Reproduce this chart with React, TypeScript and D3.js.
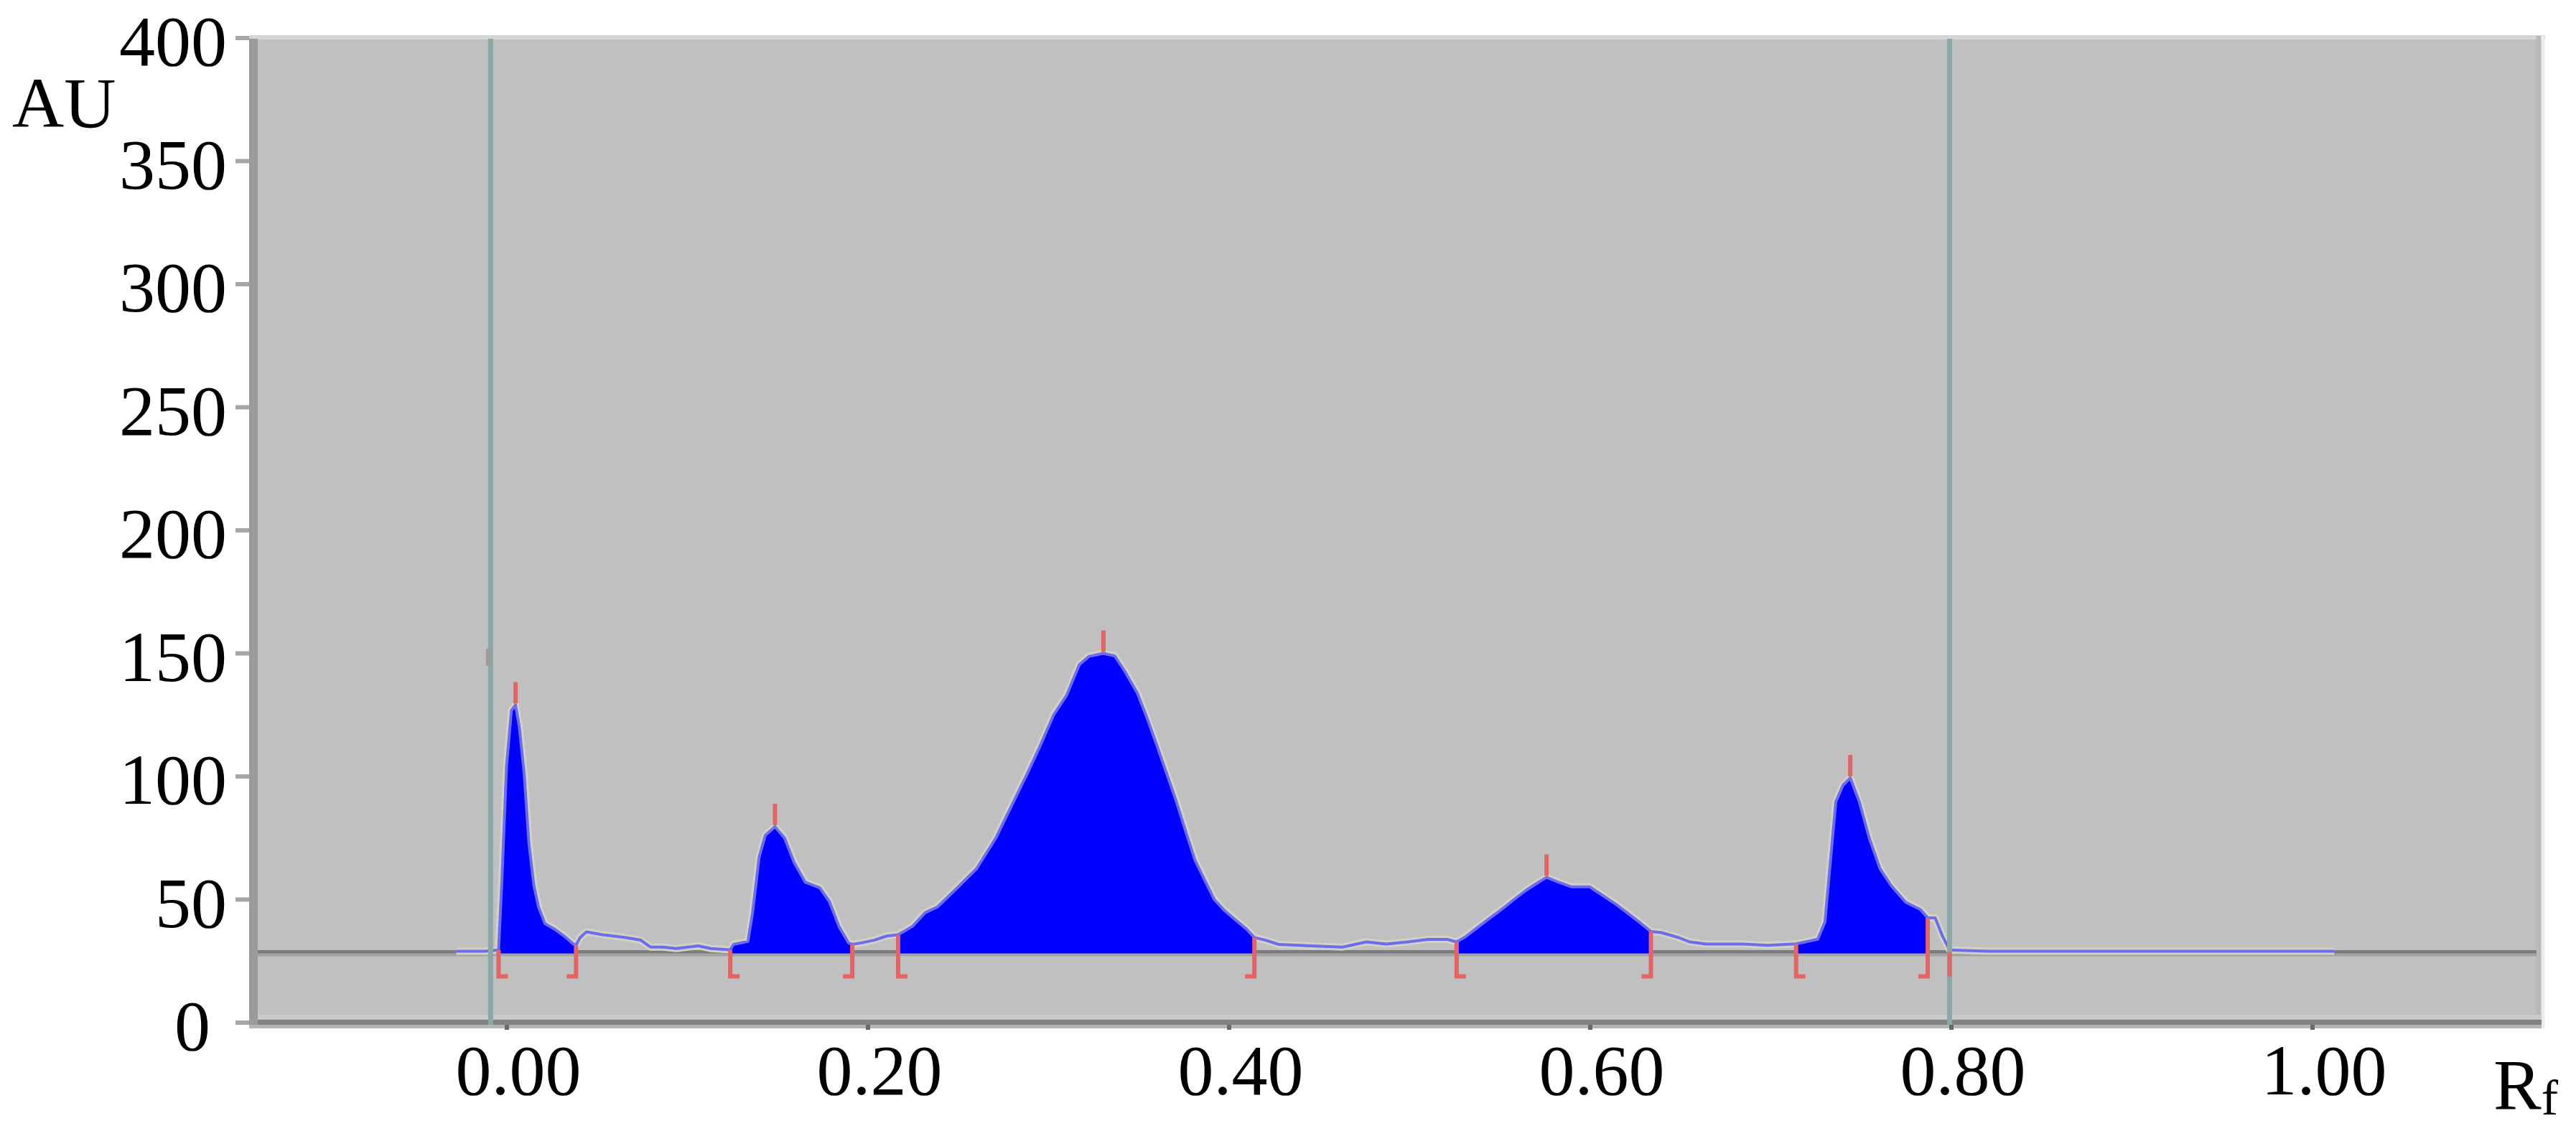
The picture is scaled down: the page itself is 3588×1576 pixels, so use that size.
import React from "react";
import * as d3 from "d3";

// ---- data ----
const traceRf = [
  -0.028, -0.012, -0.0046, -0.0028, -0.0002, 0.0025, 0.0048, 0.0069, 0.0096, 0.0122, 0.0149, 0.0175, 0.0211,
  0.0264, 0.0317, 0.037, 0.0383, 0.0406, 0.0441, 0.053, 0.0653, 0.0742, 0.0795, 0.0866, 0.0937, 0.106, 0.113,
  0.1237, 0.1255, 0.1335, 0.1361, 0.1397, 0.1432, 0.1485, 0.1538, 0.1591, 0.1653, 0.1733, 0.1786, 0.1839,
  0.1892, 0.1913, 0.1963, 0.2034, 0.2105, 0.2167, 0.2246, 0.2317, 0.2385, 0.2495, 0.2602, 0.2708, 0.2797,
  0.2886, 0.2957, 0.3028, 0.31, 0.3171, 0.3224, 0.3304, 0.3366, 0.342, 0.3491, 0.3544, 0.3598, 0.3651,
  0.3704, 0.3758, 0.3811, 0.3864, 0.3918, 0.3971, 0.4024, 0.4096, 0.414, 0.4202, 0.4273, 0.4451, 0.4629,
  0.476, 0.487, 0.499, 0.51, 0.521, 0.526, 0.5305, 0.5373, 0.5441, 0.5509, 0.5577, 0.5645, 0.5713, 0.5758,
  0.5826, 0.5894, 0.5996, 0.6064, 0.6144, 0.6212, 0.6279, 0.6336, 0.6393, 0.6483, 0.6551, 0.6642, 0.6846,
  0.6982, 0.714, 0.726, 0.73, 0.733, 0.736, 0.74, 0.744, 0.749, 0.7545, 0.7605, 0.7666, 0.7747, 0.7828,
  0.7869, 0.791, 0.795, 0.799, 0.82, 1.012,
];
const traceAu = [
  29, 29, 29.5, 57, 104, 126.8, 129, 120, 101, 72.8, 56, 47, 40.2,
  38, 35.2, 31.8, 31.5, 34.6, 36.9, 35.7, 34.6, 33.5, 30.7, 30.7, 30.1, 31.2, 30.1,
  29.6, 31.8, 33, 44.7, 67.2, 76.2, 79.6, 75, 65, 57, 54.8, 49.2, 39.1,
  32.4, 31.8, 32.4, 33.5, 35.2, 35.7, 39.1, 44.7, 47, 54.8, 62.6, 75, 88.4,
  101.8, 113, 125, 133, 145.5, 148.8, 150, 149, 143, 134, 124, 113, 101.8,
  90.6, 78, 66, 58, 50, 45.8, 42.4, 38, 34.6, 33.5, 31.8, 31.2, 30.7,
  32.8, 31.9, 32.8, 33.8, 33.8, 32.8, 34.7, 38.5, 42.3, 46, 50, 53.8, 57, 59,
  57, 55.2, 55.2, 51.9, 48, 44.2, 40.4, 37, 36.6, 34.7, 32.8, 31.9, 31.9,
  31.4, 32, 33.9, 41, 65.4, 89.7, 96.5, 99.4, 89.7, 75, 62.5, 55.7, 48.9, 46,
  42.6, 42.6, 35.3, 29.5, 29, 29,
];
const peakStart = [-0.0046, 0.1237, 0.2167, 0.526, 0.714];
const peakEnd = [0.0383, 0.1913, 0.414, 0.6336, 0.7869];
const peakMax = [0.0048, 0.1485, 0.3304, 0.5758, 0.744];
const extraMarkers = [0.799];
const frontLines = [-0.009, 0.799];
const baselineAu = 28.7;
const xTicks = [0, 0.2, 0.4, 0.6, 0.8, 1.0];
const yTicks = [0, 50, 100, 150, 200, 250, 300, 350, 400];

const W = 3588;
const H = 1576;
const FONT = "'Liberation Serif', 'Times New Roman', serif";

function interp(rf: number): number {
  for (let i = 0; i < traceRf.length - 1; i++) {
    if (rf >= traceRf[i] && rf <= traceRf[i + 1]) {
      const t = (rf - traceRf[i]) / (traceRf[i + 1] - traceRf[i]);
      return traceAu[i] + t * (traceAu[i + 1] - traceAu[i]);
    }
  }
  return baselineAu;
}

export default function App() {
  const x = d3.scaleLinear().domain([0, 1]).range([706, 3221]);
  const y = d3.scaleLinear().domain([0, 400]).range([1425, 53]);

  const plotL = 347;
  const plotR = 3540;
  const plotT = 50;
  const plotB = 1433;
  const yBase = y(baselineAu);

  const pts: [number, number][] = traceRf.map((r, i) => [r, traceAu[i]]);
  const line = d3
    .line<[number, number]>()
    .x((d) => x(d[0]))
    .y((d) => y(d[1]));
  const area = d3
    .area<[number, number]>()
    .x((d) => x(d[0]))
    .y0(yBase + 2)
    .y1((d) => y(d[1]));

  const fills = peakStart.map((s, i) => {
    const e = peakEnd[i];
    const inner = pts.filter((p) => p[0] > s && p[0] < e);
    const seg: [number, number][] = [[s, interp(s)], ...inner, [e, interp(e)]];
    return area(seg) || "";
  });

  const red = "#e26464";
  const fmtX = d3.format(".2f");

  return (
    <svg
      width={W}
      height={H}
      style={{ position: "absolute", left: 0, top: 0, display: "block", background: "#fff" }}
    >
      <rect x={0} y={0} width={W} height={H} fill="#ffffff" />
      {/* plot background */}
      <rect x={plotL} y={plotT} width={plotR - plotL} height={plotB - plotT} fill="#c0c0c0" />
      {/* top light edge */}
      <line x1={plotL} x2={plotR + 5} y1={plotT + 2} y2={plotT + 2} stroke="#d6d6d6" strokeWidth={6} />
      {/* right edge */}
      <line x1={plotR - 4} x2={plotR - 4} y1={plotT} y2={plotB} stroke="#b9b9b9" strokeWidth={7} />
      <line x1={plotR + 2} x2={plotR + 2} y1={plotT} y2={plotB} stroke="#ececec" strokeWidth={5} />
      {/* bottom axis bands */}
      <line x1={plotL} x2={plotR} y1={1417} y2={1417} stroke="#cacaca" strokeWidth={6} />
      <line x1={plotL} x2={plotR} y1={1424.5} y2={1424.5} stroke="#828282" strokeWidth={7} />
      <line x1={plotL} x2={plotR} y1={1430.5} y2={1430.5} stroke="#b4b4b4" strokeWidth={5} />
      {/* left border */}
      <line x1={plotL + 6} x2={plotL + 6} y1={plotT + 4} y2={1428} stroke="#9a9a9a" strokeWidth={12} />

      {/* baseline */}
      <line x1={plotL + 12} x2={plotR - 7} y1={yBase} y2={yBase} stroke="#7c7c7c" strokeWidth={5} />
      <line x1={plotL + 12} x2={plotR - 7} y1={yBase + 4} y2={yBase + 4} stroke="#a2a2a2" strokeWidth={4} />

      {/* halo of trace */}
      <path d={line(pts) || ""} fill="none" stroke="#d3d2c2" strokeWidth={10} strokeLinejoin="round" />
      {/* peak fills */}
      {fills.map((d, i) => (
        <path key={"f" + i} d={d} fill="#0000ff" />
      ))}
      {/* trace */}
      <path d={line(pts) || ""} fill="none" stroke="#6c6cee" strokeWidth={4} strokeLinejoin="round" />

      {/* solvent front / origin lines */}
      {frontLines.map((r, i) => (
        <line key={"v" + i} x1={x(r)} x2={x(r)} y1={plotT + 4} y2={1428} stroke="#8ca7a5" strokeWidth={7} />
      ))}
      {/* small start mark on the origin line */}
      <line
        x1={x(frontLines[0]) - 3}
        x2={x(frontLines[0]) - 3}
        y1={y(152)}
        y2={y(145)}
        stroke="#9c9c9c"
        strokeWidth={7}
      />

      {/* peak boundary markers */}
      {peakStart.map((s, i) => (
        <path
          key={"ms" + i}
          d={`M${x(s)},${y(interp(s))} L${x(s)},${yBase + 34} L${x(s) + 13},${yBase + 34}`}
          fill="none"
          stroke={red}
          strokeWidth={6}
        />
      ))}
      {peakEnd.map((e, i) => (
        <path
          key={"me" + i}
          d={`M${x(e)},${y(interp(e))} L${x(e)},${yBase + 34} L${x(e) - 13},${yBase + 34}`}
          fill="none"
          stroke={red}
          strokeWidth={6}
        />
      ))}
      {extraMarkers.map((r, i) => (
        <line key={"mx" + i} x1={x(r)} x2={x(r)} y1={yBase} y2={yBase + 34} stroke={red} strokeWidth={6} />
      ))}
      {peakMax.map((m, i) => (
        <line
          key={"mm" + i}
          x1={x(m)}
          x2={x(m)}
          y1={y(interp(m)) - 2}
          y2={y(interp(m)) - 32}
          stroke={red}
          strokeWidth={6}
        />
      ))}

      {/* y ticks */}
      {yTicks.map((t) => (
        <line key={"yt" + t} x1={328} x2={plotL} y1={y(t)} y2={y(t)} stroke="#a6a6a6" strokeWidth={6} />
      ))}
      {/* x ticks */}
      {xTicks.map((t) => (
        <line key={"xt" + t} x1={x(t)} x2={x(t)} y1={1428} y2={1435} stroke="#6a6a6a" strokeWidth={6} />
      ))}

      {/* y labels */}
      {yTicks.map((t) => (
        <text
          key={"yl" + t}
          x={t === 0 ? 293 : 316}
          y={y(t) + 38}
          textAnchor="end"
          fontFamily={FONT}
          fontSize={100}
          fill="#000"
        >
          {t}
        </text>
      ))}
      {/* x labels */}
      {xTicks.map((t) => (
        <text
          key={"xl" + t}
          x={x(t) + 16}
          y={1525}
          textAnchor="middle"
          fontFamily={FONT}
          fontSize={100}
          fill="#000"
        >
          {fmtX(t)}
        </text>
      ))}

      {/* axis titles */}
      <text x={17} y={177} fontFamily={FONT} fontSize={100} fill="#000">
        AU
      </text>
      <text x={3473} y={1545} fontFamily={FONT} fontSize={100} fill="#000">
        R
        <tspan fontSize={70} dy={8}>
          f
        </tspan>
      </text>
    </svg>
  );
}
